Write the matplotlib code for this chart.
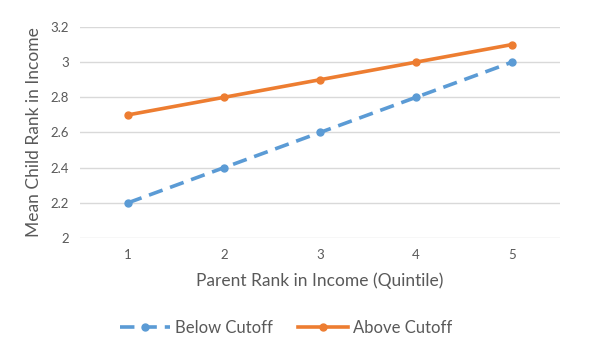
import matplotlib.pyplot as plt

plt.rcParams['font.family'] = ['Lato', 'DejaVu Sans']

quintiles = [1, 2, 3, 4, 5]
below_cutoff = [2.2, 2.4, 2.6, 2.8, 3.0]
above_cutoff = [2.7, 2.8, 2.9, 3.0, 3.1]
y_ticks = [2, 2.2, 2.4, 2.6, 2.8, 3, 3.2]
y_labels = ["2", "2.2", "2.4", "2.6", "2.8", "3", "3.2"]

text_color = "#595959"
grid_color = "#d9d9d9"

fig = plt.figure(figsize=(6, 3.56), dpi=100)
ax = fig.add_axes([0.1333, 0.3315, 0.8, 0.5927])

ax.plot(quintiles, below_cutoff, color="#5b9bd5", linewidth=2.6, linestyle=(0, (4, 2.2)),
        marker="o", markersize=5, label="Below Cutoff")
ax.plot(quintiles, above_cutoff, color="#ed7d31", linewidth=2.6,
        marker="o", markersize=5, label="Above Cutoff")

ax.set_xlim(0.5, 5.5)
ax.set_ylim(2, 3.2)
ax.set_xticks(quintiles)
ax.set_yticks(y_ticks)
ax.set_yticklabels(y_labels)
ax.tick_params(length=0, labelsize=9.5, colors=text_color, pad=8)
ax.yaxis.grid(True, color=grid_color, linewidth=1)
ax.set_axisbelow(True)
for s in ax.spines.values():
    s.set_visible(False)

ax.set_xlabel("Parent Rank in Income (Quintile)", fontsize=12.5, color=text_color, labelpad=8)
ax.set_ylabel("Mean Child Rank in Income", fontsize=12.5, color=text_color, labelpad=6)

fig.legend(loc="center", bbox_to_anchor=(0.477, 0.08), ncol=2, frameon=False,
           fontsize=12, labelcolor=text_color, handlelength=3, columnspacing=1.5,
           handletextpad=0.3)

fig.savefig("out.png", dpi=100)
